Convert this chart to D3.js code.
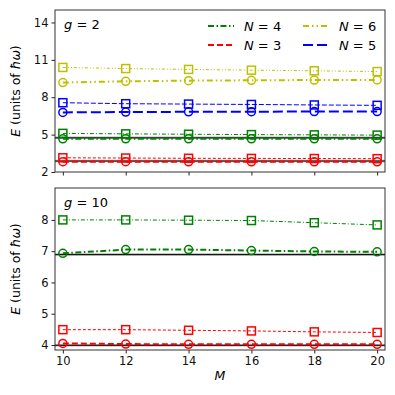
<!DOCTYPE html>
<html>
<head>
<meta charset="utf-8">
<script src="https://cdn.jsdelivr.net/npm/d3@7"></script>
<style>
  body { margin: 0; background: #fff; }
  text { font-family: "DejaVu Sans", sans-serif; }
</style>
</head>
<body>
<div id="chart"></div>
<script>
// data
var M = [10, 12, 14, 16, 18, 20];

// g = 2 panel
var g2_N3_circ = [2.83, 2.83, 2.82, 2.82, 2.82, 2.82];
var g2_N3_sq = [3.14, 3.12, 3.1, 3.09, 3.08, 3.07];
var g2_N4_circ = [4.66, 4.66, 4.66, 4.66, 4.66, 4.66];
var g2_N4_sq = [5.1, 5.06, 5.03, 5.0, 4.98, 4.96];
var g2_N5_circ = [6.78, 6.81, 6.83, 6.84, 6.85, 6.85];
var g2_N5_sq = [7.56, 7.48, 7.45, 7.42, 7.38, 7.35];
var g2_N6_circ = [9.18, 9.28, 9.33, 9.36, 9.38, 9.39];
var g2_N6_sq = [10.39, 10.3, 10.23, 10.17, 10.12, 10.06];
var g2_ref = [4.74, 2.88];

// g = 10 panel
var g10_N3_circ = [4.05, 4.03, 4.02, 4.02, 4.02, 4.02];
var g10_N3_sq = [4.49, 4.49, 4.47, 4.45, 4.42, 4.4];
var g10_N4_circ = [6.93, 7.05, 7.05, 7.02, 6.99, 6.98];
var g10_N4_sq = [8.0, 8.0, 7.99, 7.98, 7.91, 7.84];
var g10_ref = [6.89, 3.99];

var topTicks = [2, 5, 8, 11, 14];
var botTicks = [4, 5, 6, 7, 8];

var svgWidth = 395;
var svgHeight = 395;
var left = 55, right = 385;

var svg = d3.select("#chart")
  .append("svg")
  .attr("width", svgWidth)
  .attr("height", svgHeight);

var x = d3.scaleLinear().domain([9.75, 20.25]).range([left, right]);

// line styles per N: [color, thick dash, thin dash]
var styles = {
  3: { color: "#ff0000", thick: "6,3", thin: "3,2" },
  4: { color: "#008000", thick: "6,2.5,1.5,2.5", thin: "4,2,1,2" },
  5: { color: "#0000ff", thick: "10,4", thin: "5,2" },
  6: { color: "#bfbf00", thick: "6,3,1.5,3,1.5,3", thin: "3,2,1,2,1,2" }
};

function drawPanel(top, bottom, domain, ticks, series, refs, label, showX) {
  var y = d3.scaleLinear().domain(domain).range([bottom, top]);
  var g = svg.append("g");

  // reference lines
  refs.forEach(function(r) {
    g.append("line")
      .attr("x1", left).attr("x2", right)
      .attr("y1", y(r)).attr("y2", y(r))
      .attr("stroke", "#808080").attr("stroke-width", 2.5).attr("opacity", 0.6);
    g.append("line")
      .attr("x1", left).attr("x2", right)
      .attr("y1", y(r)).attr("y2", y(r))
      .attr("stroke", "#000").attr("stroke-width", 1);
  });

  var line = d3.line().x(function(d, i) { return x(M[i]); }).y(function(d) { return y(d); });

  series.forEach(function(s) {
    var st = styles[s.N];
    // squares, thin line
    g.append("path")
      .attr("d", line(s.sq))
      .attr("fill", "none")
      .attr("stroke", st.color)
      .attr("stroke-width", 1)
      .attr("stroke-dasharray", st.thin);
    g.selectAll(null).data(s.sq).enter().append("rect")
      .attr("x", function(d, i) { return x(M[i]) - 4; })
      .attr("y", function(d) { return y(d) - 4; })
      .attr("width", 8).attr("height", 8)
      .attr("fill", "none")
      .attr("stroke", st.color)
      .attr("stroke-width", 1.5);
    // circles, thick line
    g.append("path")
      .attr("d", line(s.circ))
      .attr("fill", "none")
      .attr("stroke", st.color)
      .attr("stroke-width", 2)
      .attr("stroke-dasharray", st.thick);
    g.selectAll(null).data(s.circ).enter().append("circle")
      .attr("cx", function(d, i) { return x(M[i]); })
      .attr("cy", function(d) { return y(d); })
      .attr("r", 4)
      .attr("fill", "none")
      .attr("stroke", st.color)
      .attr("stroke-width", 1.5);
  });

  // axes
  var leftAxis = d3.axisLeft(y).tickValues(ticks).tickSize(3.5).tickPadding(3)
    .tickFormat(d3.format("d"));
  var bottomAxis = d3.axisBottom(x).tickValues(M).tickSize(3.5).tickPadding(3)
    .tickFormat(showX ? d3.format("d") : "");

  var ya = g.append("g").attr("transform", "translate(" + left + ",0)").call(leftAxis);
  var xa = g.append("g").attr("transform", "translate(0," + bottom + ")").call(bottomAxis);
  [ya, xa].forEach(function(a) {
    a.select(".domain").remove();
    a.selectAll("line").attr("stroke", "#222");
    a.selectAll("text").attr("font-size", 11.5).attr("fill", "#111")
      .attr("font-family", "DejaVu Sans, sans-serif");
  });

  g.append("rect")
    .attr("x", left).attr("y", top)
    .attr("width", right - left).attr("height", bottom - top)
    .attr("fill", "none").attr("stroke", "#333").attr("stroke-width", 1);

  // panel label
  var t = g.append("text").attr("x", 64).attr("y", top + 19).attr("font-size", 13);
  t.append("tspan").attr("font-style", "italic").text("g");
  t.append("tspan").text(" = " + label);

  // y label
  var yl = g.append("text")
    .attr("transform", "translate(20," + ((top + bottom) / 2) + ") rotate(-90)")
    .attr("text-anchor", "middle")
    .attr("font-size", 12.5);
  yl.append("tspan").attr("font-style", "italic").text("E");
  yl.append("tspan").text(" (units of ");
  yl.append("tspan").attr("font-style", "italic").text("ħω");
  yl.append("tspan").text(")");
}

drawPanel(10, 172, [2, 15], topTicks, [
  { N: 6, circ: g2_N6_circ, sq: g2_N6_sq },
  { N: 5, circ: g2_N5_circ, sq: g2_N5_sq },
  { N: 4, circ: g2_N4_circ, sq: g2_N4_sq },
  { N: 3, circ: g2_N3_circ, sq: g2_N3_sq }
], g2_ref, "2", false);

drawPanel(188, 350, [3.84, 9.02], botTicks, [
  { N: 4, circ: g10_N4_circ, sq: g10_N4_sq },
  { N: 3, circ: g10_N3_circ, sq: g10_N3_sq }
], g10_ref, "10", true);

// x label
var xl = svg.append("text")
  .attr("x", (left + right) / 2).attr("y", 380)
  .attr("text-anchor", "middle").attr("font-size", 12.5)
  .attr("font-style", "italic").text("M");

// legend
var legend = [
  { N: 4, col: 0, row: 0 },
  { N: 6, col: 1, row: 0 },
  { N: 3, col: 0, row: 1 },
  { N: 5, col: 1, row: 1 }
];
var lg = svg.append("g");
legend.forEach(function(d) {
  var lx = 208 + d.col * 95;
  var ly = 26 + d.row * 19;
  lg.append("line")
    .attr("x1", lx).attr("x2", lx + 26)
    .attr("y1", ly).attr("y2", ly)
    .attr("stroke", styles[d.N].color)
    .attr("stroke-width", 2)
    .attr("stroke-dasharray", styles[d.N].thick);
  var t = lg.append("text").attr("x", lx + 36).attr("y", ly + 5).attr("font-size", 13);
  t.append("tspan").attr("font-style", "italic").text("N");
  t.append("tspan").text(" = " + d.N);
});
</script>
</body>
</html>
